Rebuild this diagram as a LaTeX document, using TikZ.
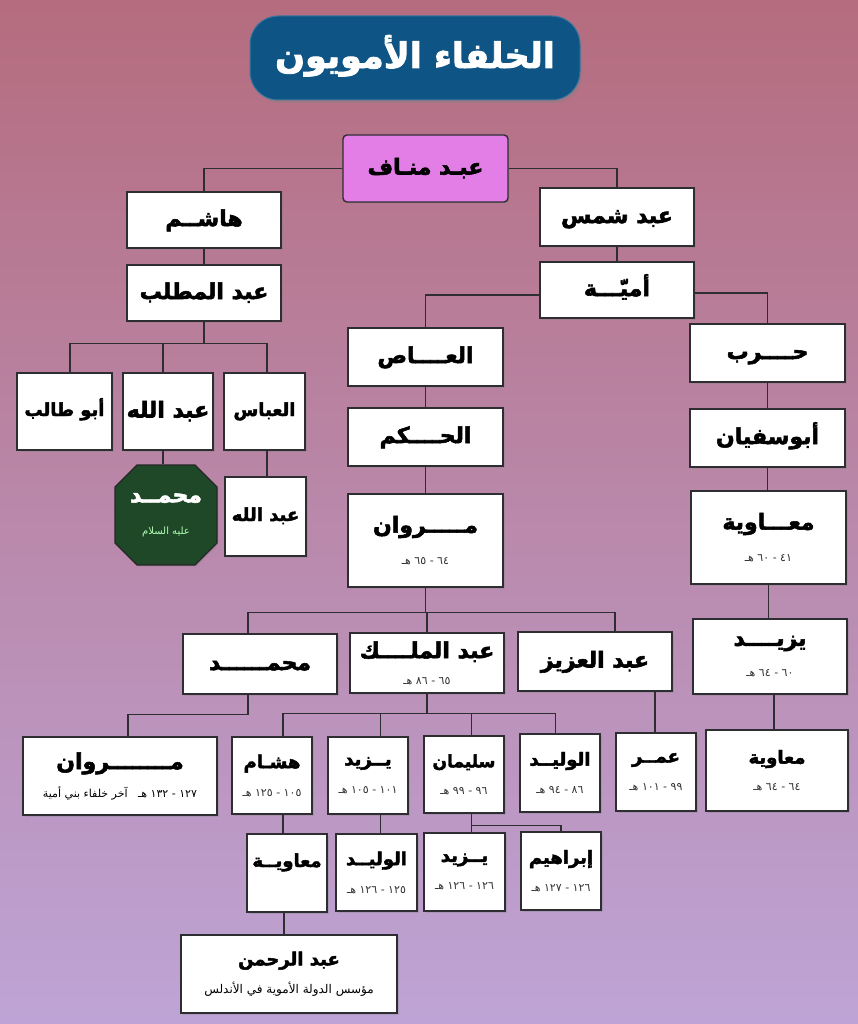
\documentclass[tikz,border=0pt]{standalone}
\usepackage{fontspec}
\usetikzlibrary{shapes.misc,shadows,calc}
\TeXXeTstate=1
\newfontfamily\arabicfont[Script=Arabic, BoldFeatures={FakeBold=2.5}]{DejaVu Sans}
\newcommand{\RL}[1]{\beginR #1\endR}
\newcommand{\hdate}[1]{{\fontsize{11}{13}\selectfont\mdseries\color{black!80}\beginR #1\endR}}
\definecolor{bgtop}{RGB}{181,108,126}
\definecolor{bgmid}{RGB}{198,150,188}
\definecolor{bgbot}{RGB}{190,164,214}
\definecolor{titleblue}{RGB}{14,84,132}
\definecolor{manafpink}{RGB}{226,126,230}
\definecolor{mgreen}{RGB}{30,72,40}
\definecolor{edgec}{RGB}{45,45,50}
\tikzset{
  box/.style={draw=edgec, line width=1.4pt, fill=white, inner sep=0pt, align=center,
    font=\arabicfont\bfseries\fontsize{22}{26}\selectfont,
    drop shadow={shadow xshift=1.5pt, shadow yshift=-1.5pt, opacity=0.3}},
  sbox/.style={box, font=\arabicfont\bfseries\fontsize{18}{22}\selectfont},
  one/.style={text height=15pt, text depth=3pt},
  sone/.style={text height=12pt, text depth=3pt},
  conn/.style={draw=edgec, line width=1.2pt}
}
\begin{document}
\begin{tikzpicture}[x=1pt,y=-1pt]
\useasboundingbox (0,0) rectangle (858,1024);
\shade[top color=bgtop, middle color=bgmid, bottom color=bgbot] (0,0) rectangle (858,1024);

% title
\node[fill=titleblue, draw=titleblue!80!white, line width=1pt, rounded corners=28, minimum width=330, minimum height=84, inner sep=0pt,
  text=white, font=\arabicfont\bfseries\fontsize{35}{40}\selectfont, text height=26pt, text depth=6pt,
  drop shadow={shadow xshift=2pt, shadow yshift=-3pt, opacity=0.35}] (title) at (415,58) {\RL{الخلفاء الأمويون}};

% nodes
\node[box, one, fill=manafpink, rounded corners=4, minimum width=165, minimum height=67] (manaf) at (425.5,168.5) {\RL{عبـد منـاف}};
\node[box, one, minimum width=154, minimum height=56] (hashim) at (204,220) {\RL{هاشــم}};
\node[box, one, minimum width=154, minimum height=56] (muttalib) at (204,293) {\RL{عبد المطلب}};
\node[box, one, minimum width=154, minimum height=58] (shams) at (617,217) {\RL{عبد شمس}};
\node[box, one, minimum width=154, minimum height=56] (umayya) at (617,290) {\RL{أميّـــة}};
\node[box, one, minimum width=155, minimum height=58] (as) at (425.5,357) {\RL{العــــاص}};
\node[box, one, minimum width=155, minimum height=58] (hakam) at (425.5,437) {\RL{الحــــكم}};
\node[box, minimum width=155, minimum height=93] (marwan1) at (425.5,540.5) {\RL{مـــــروان}\\[6pt]\hdate{٦٤ - ٦٥ هـ}};
\node[box, one, minimum width=155, minimum height=58] (harb) at (767.5,353) {\RL{حــــرب}};
\node[box, one, minimum width=155, minimum height=58] (sufyan) at (767.5,438) {\RL{أبوسفيان}};
\node[box, minimum width=155, minimum height=93] (muawiya1) at (768.5,537.5) {\RL{معـــاوية}\\[6pt]\hdate{٤١ - ٦٠ هـ}};
\node[box, minimum width=154, minimum height=75] (yazid1) at (770,656.5) {\RL{يزيــــد}\\[5pt]\hdate{٦٠ - ٦٤ هـ}};
\node[sbox, minimum width=142, minimum height=81] (muawiya2) at (777,770.5) {\RL{معاوية}\\[5pt]\hdate{٦٤ - ٦٤ هـ}};

\node[sbox, sone, minimum width=95, minimum height=77] (abutalib) at (64.5,411.5) {\RL{أبو طالب}};
\node[box, one, minimum width=90, minimum height=77] (abdallah1) at (168,411.5) {\RL{عبد الله}};
\node[sbox, sone, minimum width=81, minimum height=77] (abbas) at (264.5,411.5) {\RL{العباس}};
\node[box, chamfered rectangle, chamfered rectangle xsep=11pt, chamfered rectangle ysep=11pt, fill=mgreen, draw=black!85, text=white, minimum width=102, minimum height=100] (muhammad) at (166,515)
  {\RL{محمــد}\\[6pt]{\fontsize{10}{12}\selectfont\mdseries\color{green!30!white}\RL{عليه السلام}}};
\node[sbox, sone, minimum width=81, minimum height=79] (abdallah2) at (265.5,516.5) {\RL{عبد الله}};

\node[box, one, minimum width=154, minimum height=60] (muhammad2) at (260,664) {\RL{محمــــــد}};
\node[box, minimum width=154, minimum height=60] (malik) at (427,663) {\RL{عبد الملــــك}\\[0pt]\hdate{٦٥ - ٨٦ هـ}};
\node[box, one, minimum width=154, minimum height=59] (aziz) at (595,661.5) {\RL{عبد العزيز}};

\node[box, minimum width=194, minimum height=78] (marwan2) at (120,776) {\RL{مــــــــروان}\\[2pt]{\fontsize{11}{13}\selectfont\mdseries\beginR ١٢٧ - ١٣٢ هـ \ \ آخر خلفاء بني أمية\endR}};
\node[sbox, minimum width=80, minimum height=77] (hisham) at (272,775.5) {\RL{هشـام}\\[6pt]\hdate{١٠٥ - ١٢٥ هـ}};
\node[sbox, minimum width=80, minimum height=77] (yazid2) at (368,775.5) {\RL{يــزيد}\\[6pt]\hdate{١٠١ - ١٠٥ هـ}};
\node[sbox, minimum width=80, minimum height=77, font=\arabicfont\bfseries\fontsize{17}{21}\selectfont] (sulayman) at (464,774.5) {\RL{سليمان}\\[6pt]\hdate{٩٦ - ٩٩ هـ}};
\node[sbox, minimum width=80, minimum height=78] (walid1) at (560,773) {\RL{الوليــد}\\[6pt]\hdate{٨٦ - ٩٤ هـ}};
\node[sbox, minimum width=80, minimum height=78] (umar) at (656,772) {\RL{عمــر}\\[6pt]\hdate{٩٩ - ١٠١ هـ}};

\node[sbox, minimum width=80, minimum height=78, text height=15pt, text depth=27pt] (muawiya3) at (287,873) {\RL{معاويــة}};
\node[sbox, minimum width=81, minimum height=77] (walid2) at (376.5,872.5) {\RL{الوليــد}\\[6pt]\hdate{١٢٥ - ١٢٦ هـ}};
\node[sbox, minimum width=81, minimum height=78] (yazid3) at (464.5,872) {\RL{يــزيد}\\[6pt]\hdate{١٢٦ - ١٢٦ هـ}};
\node[sbox, minimum width=80, minimum height=78] (ibrahim) at (561,871) {\RL{إبراهيم}\\[6pt]\hdate{١٢٦ - ١٢٧ هـ}};
\node[sbox, minimum width=216, minimum height=78] (rahman) at (289,974) {\RL{عبد الرحمن}\\[6pt]{\fontsize{12}{14}\selectfont\mdseries\RL{مؤسس الدولة الأموية في الأندلس}}};

% connectors
\draw[conn] (manaf.west) -| (hashim.north);
\draw[conn] (manaf.east) -| (shams.north);
\draw[conn] (hashim.south) -- (hashim.south |- muttalib.north);
\draw[conn] (shams.south) -- (shams.south |- umayya.north);
\draw[conn] ([yshift=-5pt]umayya.west) -| (as.north);
\draw[conn] ([yshift=-3pt]umayya.east) -| (harb.north);
\draw[conn] (as.south) -- (as.south |- hakam.north);
\draw[conn] (hakam.south) -- (hakam.south |- marwan1.north);
\draw[conn] (harb.south) -- (harb.south |- sufyan.north);
\draw[conn] (sufyan.south) -- (sufyan.south |- muawiya1.north);
\draw[conn] (muawiya1.south) -- (muawiya1.south |- yazid1.north);
\draw[conn] ([xshift=4pt]yazid1.south) -- ([xshift=4pt]yazid1.south |- muawiya2.north);

\draw[conn] (muttalib.south) -- ++(0,22) coordinate (bm);
\draw[conn] ([xshift=5.5pt]abutalib.north) |- (bm) -| ([xshift=2.5pt]abbas.north);
\draw[conn] ([xshift=-5pt]abdallah1.north) -- ([xshift=-5pt]abdallah1.north |- bm);
\draw[conn] ([xshift=-5pt]abdallah1.south) -- ([xshift=-5pt]abdallah1.south |- muhammad.north);
\draw[conn] ([xshift=2.5pt]abbas.south) -- ([xshift=2.5pt]abbas.south |- abdallah2.north);

\draw[conn] (marwan1.south) -- ++(0,25) coordinate (bw);
\draw[conn] ([xshift=-12pt]muhammad2.north) |- (bw) -| ([xshift=20pt]aziz.north);
\draw[conn] (malik.north |- bw) -- (malik.north);
\draw[conn] ([xshift=-12pt]muhammad2.south) -- ++(0,20) -| ([xshift=8pt]marwan2.north);
\draw[conn] (malik.south) -- ++(0,20) coordinate (bk);
\draw[conn] ([xshift=11pt]hisham.north) |- (bk) -| ([xshift=-4.5pt]walid1.north);
\draw[conn] ([xshift=12.5pt]yazid2.north) -- ([xshift=12.5pt]yazid2.north |- bk);
\draw[conn] ([xshift=7.5pt]sulayman.north) -- ([xshift=7.5pt]sulayman.north |- bk);
\draw[conn] ([xshift=60pt]aziz.south) -- ([xshift=60pt]aziz.south |- umar.north);
\draw[conn] ([xshift=11pt]hisham.south) -- ([xshift=11pt]hisham.south |- muawiya3.north);
\draw[conn] ([xshift=12.5pt]yazid2.south) -- ([xshift=12.5pt]yazid2.south |- walid2.north);
\draw[conn] ([xshift=7.5pt]sulayman.south) -- ([xshift=7.5pt]sulayman.south |- yazid3.north);
\draw[conn] ([xshift=7.5pt]sulayman.south) ++(0,12) -| (ibrahim.north);
\draw[conn] ([xshift=-3pt]muawiya3.south) -- ([xshift=-3pt]muawiya3.south |- rahman.north);
\end{tikzpicture}
\end{document}
